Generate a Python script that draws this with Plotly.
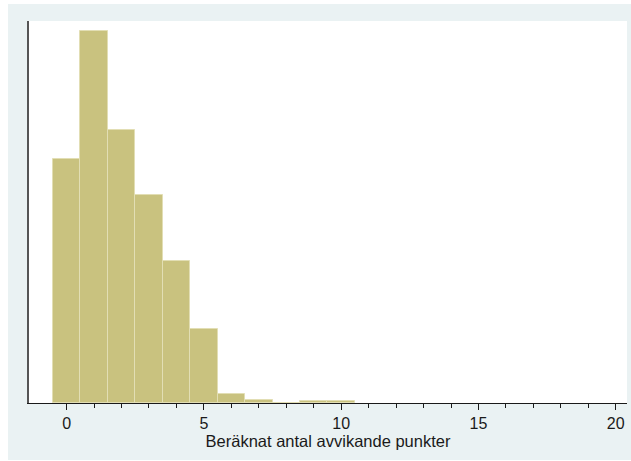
import plotly.graph_objects as go

# Histogram of estimated number of deviating points (density scale, bin width 1)
bin_centers = [0, 1, 2, 3, 4, 5, 6, 7, 8, 9, 10]
density = [0.1835, 0.2800, 0.2057, 0.1563, 0.1071, 0.0555, 0.0070, 0.0023, 0.0, 0.0013, 0.0013]
x_ticks = [0, 5, 10, 15, 20]
x_minor_ticks = list(range(0, 21))
x_title = "Beräknat antal avvikande punkter"

W, H = 631, 461
ml, mr, mt, mb = 29, 4, 21, 58
pw, ph = W - ml - mr, H - mt - mb

def px_to_paper_x(px):
    return (px - ml) / pw

def px_to_paper_y(py):
    return (H - mb - py) / ph

fig = go.Figure()
fig.add_trace(go.Bar(
    x=bin_centers,
    y=density,
    width=1,
    marker=dict(color="#C9C27F", line=dict(color="#E2DEB4", width=1)),
    hoverinfo="x+y",
))

# Light graph-region background with a white plot region on top
fig.add_shape(type="rect", xref="paper", yref="paper", layer="below",
              x0=px_to_paper_x(8), x1=px_to_paper_x(631),
              y0=px_to_paper_y(460), y1=px_to_paper_y(4),
              fillcolor="#EAF2F3", line=dict(width=0))
fig.add_shape(type="rect", xref="paper", yref="paper", layer="below",
              x0=0, x1=1, y0=0, y1=1,
              fillcolor="white", line=dict(width=0))

fig.update_layout(
    width=W, height=H,
    margin=dict(l=ml, r=mr, t=mt, b=mb),
    paper_bgcolor="white",
    plot_bgcolor="white",
    showlegend=False,
    bargap=0,
    font=dict(family="Liberation Sans, Arial, sans-serif", size=16, color="#1a1a1a"),
    xaxis=dict(
        range=[-1.37, 20.41],
        tickvals=x_ticks,
        ticks="outside", ticklen=6, tickwidth=1, tickcolor="#1a1a1a",
        minor=dict(tickvals=x_minor_ticks, ticks="outside", ticklen=4,
                   tickwidth=1, tickcolor="#1a1a1a"),
        showline=True, linecolor="#1a1a1a", linewidth=1,
        showgrid=False, zeroline=False,
        tickfont=dict(size=16),
        title=dict(text=x_title, font=dict(size=16.5), standoff=1),
    ),
    yaxis=dict(
        range=[0, 0.2876],
        showticklabels=False, ticks="",
        showline=True, linecolor="#555555", linewidth=2,
        showgrid=False, zeroline=False,
    ),
)

fig.write_html("out.html")
